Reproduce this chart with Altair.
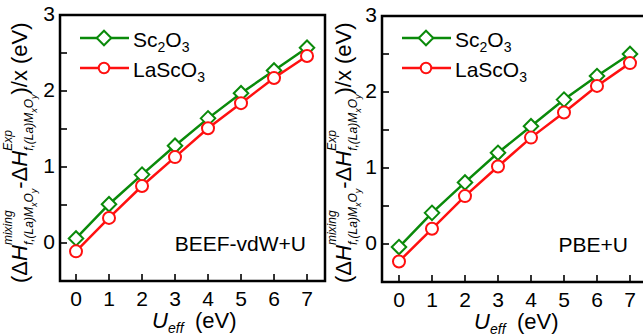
import altair as alt
import pandas as pd

# ---------------- data ----------------
u_eff = [0, 1, 2, 3, 4, 5, 6, 7]
beef_sc2o3 = [0.06, 0.51, 0.90, 1.28, 1.64, 1.97, 2.27, 2.57]
beef_lasco3 = [-0.11, 0.33, 0.75, 1.13, 1.51, 1.84, 2.17, 2.46]
pbe_sc2o3 = [-0.04, 0.41, 0.81, 1.20, 1.55, 1.90, 2.21, 2.50]
pbe_lasco3 = [-0.23, 0.20, 0.63, 1.02, 1.40, 1.73, 2.08, 2.38]
x_tick_values = [0, 1, 2, 3, 4, 5, 6, 7]
y_tick_values = [-0.5, 0, 0.5, 1, 1.5, 2, 2.5, 3]
y_label_values = [0, 1, 2, 3]
panel_labels = ["BEEF-vdW+U", "PBE+U"]

FONT = "Liberation Sans"
GREEN = "#0a8a0a"
RED = "#ff1010"
BLACK = "#000000"

one = pd.DataFrame({"k": [0]})

# Arial-compatible advance widths (em)
W = {'(': .333, ')': .333, 'Δ': .668, 'H': .722, '-': .333, 'm': .833, 'i': .222,
     'x': .5, 'n': .556, 'g': .556, 'f': .278, ',': .278, 'L': .556, 'a': .556,
     'M': .833, 'O': .778, 'y': .5, 'E': .667, 'p': .556, '/': .278, ' ': .278,
     'e': .556, 'V': .667, 'U': .722}


def tw(s, size):
    return sum(W.get(c, .556) for c in s) * size


def txt(text, x, y, size, italic=False, angle=0, align="left", baseline="alphabetic", color=BLACK):
    kw = dict(text=text, font=FONT, fontSize=size, align=align, baseline=baseline, color=color)
    if italic:
        kw["fontStyle"] = "italic"
    if angle:
        kw["angle"] = angle
    return alt.Chart(one).mark_text(**kw).encode(x=alt.value(x), y=alt.value(y))


def y_title(L, dx):
    out = []
    S, s, ss = 22, 12, 9
    main_x = L - 33 + dx
    sup_x = L - 48 + dx
    sub_x = L - 27 + dx
    ssub_x = L - 23 + dx
    y = 283.0

    def sub_chain(y0):
        yy = y0
        for t, size, xx in [("f,(La)M", s, sub_x), ("x", ss, ssub_x), ("O", s, sub_x), ("y", ss, ssub_x)]:
            out.append(txt(t, xx, yy, size, italic=True, angle=270))
            yy -= tw(t, size)
        return yy

    for head, sup in [("(Δ", "mixing"), ("-Δ", "Exp")]:
        out.append(txt(head, main_x, y, S, angle=270))
        y -= tw(head, S)
        out.append(txt("H", main_x, y, S, italic=True, angle=270))
        y -= tw("H", S)
        out.append(txt(sup, sup_x, y, s, italic=True, angle=270))
        y = sub_chain(y)
    out.append(txt(")/x (eV)", main_x, y, S, angle=270))
    return out


def panel(sc, la, L, R, T, B, xdom, label):
    xs = alt.Scale(domain=xdom, range=[L, R], nice=False, zero=False)
    ys = alt.Scale(domain=[-0.5, 3], range=[B, T], nice=False, zero=False)
    df = pd.DataFrame({"U": u_eff, "sc": sc, "la": la})
    xt = pd.DataFrame({"t": x_tick_values})
    yt = pd.DataFrame({"t": y_tick_values})
    yl = pd.DataFrame({"t": y_label_values})

    layers = []
    # frame
    layers.append(alt.Chart(one).mark_rect(filled=False, stroke=BLACK, strokeWidth=2.5).encode(
        x=alt.value(L), x2=alt.value(R if R < 640 else 700), y=alt.value(T), y2=alt.value(B)))
    # ticks (inward)
    layers.append(alt.Chart(xt).mark_rule(color=BLACK, strokeWidth=1.6).encode(
        x=alt.X("t:Q", scale=xs, axis=None), y=alt.value(B - 7), y2=alt.value(B)))
    layers.append(alt.Chart(yt).mark_rule(color=BLACK, strokeWidth=1.6).encode(
        y=alt.Y("t:Q", scale=ys, axis=None), x=alt.value(L), x2=alt.value(L + 7)))
    # tick labels
    layers.append(alt.Chart(xt).mark_text(font=FONT, fontSize=21, baseline="alphabetic", align="center",
                                          color=BLACK).encode(
        x=alt.X("t:Q", scale=xs, axis=None), y=alt.value(B + 25), text=alt.Text("t:Q")))
    layers.append(alt.Chart(yl).mark_text(font=FONT, fontSize=21, baseline="middle", align="right",
                                          color=BLACK).encode(
        y=alt.Y("t:Q", scale=ys, axis=None), x=alt.value(L - 5), text=alt.Text("t:Q")))
    # series
    for col, color, shape, size in [("sc", GREEN, "diamond", 210), ("la", RED, "circle", 144)]:
        layers.append(alt.Chart(df).mark_line(color=color, strokeWidth=2.5).encode(
            x=alt.X("U:Q", scale=xs, axis=None), y=alt.Y(f"{col}:Q", scale=ys, axis=None)))
        layers.append(alt.Chart(df).mark_point(shape=shape, size=size, filled=True, fill="white",
                                               stroke=color, strokeWidth=2, opacity=1).encode(
            x=alt.X("U:Q", scale=xs, axis=None), y=alt.Y(f"{col}:Q", scale=ys, axis=None)))
    # legend
    for (ly, lb, color, shape, size, parts) in [
        (38, 47, GREEN, "diamond", 210, [("Sc", 0), ("2", 1), ("O", 0), ("3", 1)]),
        (68, 77, RED, "circle", 110, [("LaScO", 0), ("3", 1)]),
    ]:
        layers.append(alt.Chart(one).mark_rule(color=color, strokeWidth=2.5).encode(
            x=alt.value(L + 20), x2=alt.value(L + 69), y=alt.value(ly)))
        layers.append(alt.Chart(one).mark_point(shape=shape, size=size, filled=True, fill="white",
                                                stroke=color, strokeWidth=2, opacity=1).encode(
            x=alt.value(L + 44), y=alt.value(ly)))
        xx = L + 73
        for t, is_sub in parts:
            size = 14 if is_sub else 21
            layers.append(txt(t, xx, lb + (5 if is_sub else 0), size))
            xx += sum({'S': .667, 'c': .5, 'O': .778, 'L': .556, 'a': .556}.get(c, .556) for c in t) * size
    # panel label
    layers.append(txt(label, L + 246, B - 30, 21, align="right"))
    # x title
    layers.append(txt("U", L + 92, B + 47, 22, italic=True))
    layers.append(txt("eff", L + 108, B + 52, 14, italic=True))
    layers.append(txt("(eV)", L + 135, B + 47, 22))
    # y title
    layers += y_title(L, 0 if L < 100 else 2)
    return alt.layer(*layers)


left = panel(beef_sc2o3, beef_lasco3, 60, 325, 15, 281, [-0.485, 7.545], panel_labels[0])
right = panel(pbe_sc2o3, pbe_lasco3, 382, 643, 16, 282, [-0.515, 7.394], panel_labels[1])

chart = alt.layer(left, right).resolve_scale(x="independent", y="independent").properties(
    width=643, height=336, autosize=alt.AutoSizeParams(type="none"), padding=0,
    background="white"
).configure_view(stroke=None)

chart.save("out.html", embed_options={"renderer": "svg", "actions": False})
